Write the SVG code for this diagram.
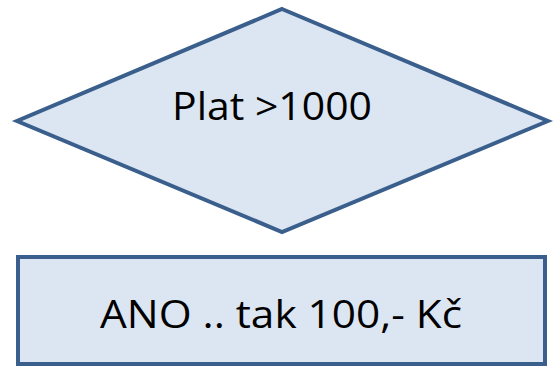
<svg xmlns="http://www.w3.org/2000/svg" width="553" height="367" viewBox="0 0 553 367">
<style>
.shape{fill:#DCE6F2;stroke:#3A5F8C;stroke-width:4;stroke-linejoin:miter}
.lbl{font-family:"Open Sans","Liberation Sans",sans-serif;font-size:38px;fill:#000;text-anchor:middle}
</style>
<rect width="553" height="367" fill="#fff"/>
<g id="decision">
<polygon class="shape" points="282,9 548,121 282,232 17,121"/>
<text class="lbl" x="272" y="120" textLength="200" lengthAdjust="spacingAndGlyphs">Plat &gt;1000</text>
</g>
<g id="yes-box">
<rect class="shape" x="18" y="257" width="527" height="107"/>
<text class="lbl" x="281" y="328" textLength="362" lengthAdjust="spacingAndGlyphs">ANO .. tak 100,- Kč</text>
</g>
<g id="connectors"></g>
</svg>
